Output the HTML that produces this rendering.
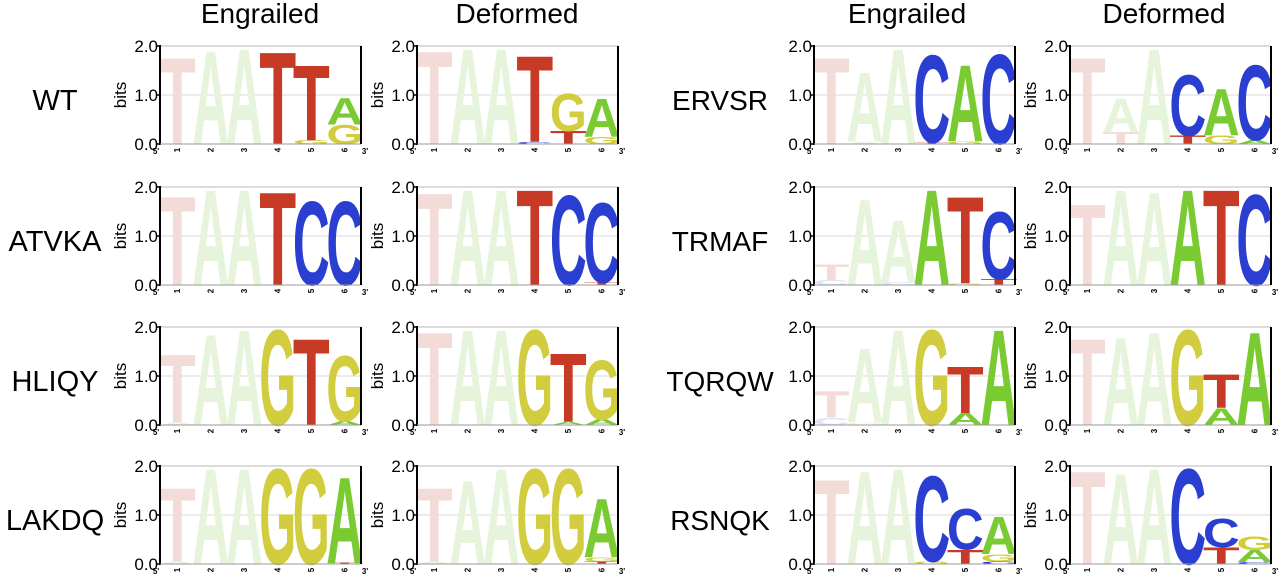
<!DOCTYPE html>
<html><head><meta charset="utf-8"><style>
html,body{margin:0;padding:0;background:#fff;}
svg{display:block;font-family:"Liberation Sans",sans-serif;}
</style></head><body>
<svg id="fig" width="1280" height="579" viewBox="0 0 1280 579" xmlns="http://www.w3.org/2000/svg">
<g font-size="28" text-anchor="middle" fill="#000">
<text x="260" y="23">Engrailed</text>
<text x="517" y="23">Deformed</text>
<text x="907" y="23">Engrailed</text>
<text x="1164" y="23">Deformed</text>
</g>
<g font-size="29" text-anchor="middle" fill="#000">
<text x="55" y="110">WT</text>
<text x="55" y="251">ATVKA</text>
<text x="55" y="391">HLIQY</text>
<text x="55" y="530">LAKDQ</text>
</g>
<g font-size="28" text-anchor="middle" fill="#000">
<text x="720" y="110">ERVSR</text>
<text x="720" y="251">TRMAF</text>
<text x="720" y="391">TQRQW</text>
<text x="720" y="530">RSNQK</text>
</g>
<g id="panels"></g>
</svg>
<script>
// Each panel: 6 positions; each position is a stack (bottom -> top) of [letter, bits]
const wtEng   = [[["T",1.8]],[["A",1.95]],[["A",2.0]],[["T",1.93]],[["G",0.08],["T",1.57]],[["G",0.4],["A",0.55]]];
const wtDef   = [[["T",1.95]],[["A",2.0]],[["A",2.0]],[["C",0.04],["T",1.8]],[["T",0.27],["G",0.78]],[["G",0.15],["A",0.8]]];
const atvkaEng= [[["T",1.86]],[["A",2.0]],[["A",2.0]],[["T",1.95]],[["C",1.75]],[["C",1.75]]];
const atvkaDef= [[["T",1.93]],[["A",2.0]],[["A",2.0]],[["T",2.0]],[["C",1.87]],[["T",0.05],["C",1.67]]];
const hliqyEng= [[["A",0.05],["T",1.42]],[["A",1.9]],[["A",2.0]],[["G",2.0]],[["T",1.8]],[["A",0.08],["G",1.37]]];
const hliqyDef= [[["T",1.95]],[["A",2.0]],[["A",2.0]],[["G",2.0]],[["A",0.06],["T",1.44]],[["A",0.12],["G",1.23]]];
const lakdqEng= [[["A",0.05],["T",1.54]],[["A",2.0]],[["A",2.0]],[["G",2.0]],[["G",2.0]],[["T",0.02],["A",1.81]]];
const lakdqDef= [[["A",0.05],["T",1.55]],[["A",1.75]],[["A",2.0]],[["G",2.0]],[["G",2.0]],[["T",0.05],["G",0.08],["A",1.23]]];
const ervsrEng= [[["T",1.8]],[["A",0.05],["A",1.45]],[["A",2.0]],[["T",0.03],["C",1.83]],[["G",0.05],["A",1.6]],[["C",1.87]]];
const ervsrDef= [[["T",1.8]],[["T",0.25],["A",0.7]],[["A",2.0]],[["T",0.17],["C",1.28]],[["G",0.17],["A",0.98]],[["A",0.08],["C",1.58]]];
const trmafEng= [[["C",0.1],["T",0.33]],[["A",1.8]],[["C",0.06],["A",1.3]],[["A",2.0]],[["G",0.03],["T",1.82]],[["T",0.12],["C",1.41]]];
const trmafDef= [[["T",1.7]],[["A",2.0]],[["A",1.95]],[["A",2.0]],[["T",2.0]],[["C",1.9]]];
const tqrqwEng= [[["C",0.15],["T",0.56]],[["G",0.05],["A",1.56]],[["A",2.0]],[["G",2.0]],[["A",0.25],["T",0.97]],[["A",2.0]]];
const tqrqwDef= [[["T",1.8]],[["A",1.85]],[["A",1.95]],[["G",2.0]],[["A",0.35],["T",0.7]],[["A",1.95]]];
const rsnqkEng= [[["T",1.78]],[["A",1.95]],[["A",2.0]],[["G",0.05],["C",1.79]],[["T",0.3],["C",0.85]],[["C",0.05],["G",0.15],["A",0.78]]];
const rsnqkDef= [[["T",1.95]],[["A",1.9]],[["A",2.0]],[["C",2.0]],[["T",0.35],["C",0.6]],[["C",0.04],["A",0.25],["G",0.29]]];

const panelData = [wtEng,wtDef,ervsrEng,ervsrDef, atvkaEng,atvkaDef,trmafEng,trmafDef,
                   hliqyEng,hliqyDef,tqrqwEng,tqrqwDef, lakdqEng,lakdqDef,rsnqkEng,rsnqkDef];
const panelNames = ["wt-engrailed","wt-deformed","ervsr-engrailed","ervsr-deformed",
  "atvka-engrailed","atvka-deformed","trmaf-engrailed","trmaf-deformed",
  "hliqy-engrailed","hliqy-deformed","tqrqw-engrailed","tqrqw-deformed",
  "lakdq-engrailed","lakdq-deformed","rsnqk-engrailed","rsnqk-deformed"];
const yTicks = [0,1,2];
const yTickLabels = ["0.0","1.0","2.0"];
const positions = ["1","2","3","4","5","6"];

const NS="http://www.w3.org/2000/svg";
const colX=[160,417,814,1070], rowY=[46,187,327,466], PW=201, PH=98, MAXB=2;
const full={T:"#c73a26",A:"#7acb32",C:"#2a3fd1",G:"#d2cd3e"};
const faded={T:"#f3dcd8",A:"#e6f4dc",C:"#dde2f5",G:"#f3f1d3"};
const CAP=0.716;
function mk(tag,attrs,parent){const e=document.createElementNS(NS,tag);for(const k in attrs)e.setAttribute(k,attrs[k]);parent.appendChild(e);return e;}
const root=document.getElementById("panels");
panelData.forEach((data,pi)=>{
  const x0=colX[pi%4], y0=rowY[Math.floor(pi/4)];
  const yS=b=>y0+PH-(b/MAXB)*PH;
  const cw=PW/positions.length;
  const xS=i=>x0+i*cw;
  const g=mk("g",{},root);
  
  
  const top=mk("line",{x1:x0,x2:x0+PW,y1:yS(2),y2:yS(2),stroke:"#c8c8c8","stroke-width":1.2},g);
  
  
  const mid=mk("line",{x1:x0,x2:x0+PW,y1:yS(1),y2:yS(1),stroke:"#d8d8d8","stroke-width":1},g);
  
  
  data.forEach((stack,i)=>{
    let base=0;
    stack.forEach(([L,b])=>{
      const h=(b/MAXB)*PH;
      if(h>0.3){
        const tw=cw*1.1;
        const t=mk("text",{x:0,y:0,"font-size":100,"font-weight":"bold",textLength:tw,lengthAdjust:"spacingAndGlyphs",
          fill:i<3?faded[L]:full[L],
          transform:`translate(${xS(i)-cw*0.05+0.5},${yS(base)}) scale(1,${h/(100*CAP)})`},g);
        t.textContent=L;
        
        
      }
      base+=b;
    });
  });
  const ax=mk("line",{x1:x0,x2:x0,y1:yS(2)-1,y2:yS(0)+1,stroke:"#000","stroke-width":2},g);
  
  
  const bx=mk("line",{x1:x0,x2:x0+PW,y1:yS(0),y2:yS(0),stroke:"#999","stroke-width":1},g);
  
  
  const rb=mk("line",{x1:x0+PW,x2:x0+PW,y1:yS(2),y2:yS(0),stroke:"#000","stroke-width":2},g);
  
  
  yTicks.forEach((v,k)=>{
    const tk=mk("line",{x1:x0-4,x2:x0,y1:yS(v),y2:yS(v),stroke:"#000","stroke-width":1.5},g);
    
    
    const tl=mk("text",{x:x0-2,y:yS(v)+6,"font-size":17,"text-anchor":"end",fill:"#000"},g);
    tl.textContent=yTickLabels[k];
    
    
  });
  if(pi%4!==2){
    const bl=mk("text",{x:0,y:0,"font-size":17,"text-anchor":"middle",fill:"#000",transform:`translate(${x0-34},${yS(1)}) rotate(-90)`},g);
    bl.textContent="bits";
    
    
  }
  positions.forEach((p,i)=>{
    const pl=mk("text",{x:0,y:0,"font-size":8,"font-weight":"bold","text-anchor":"middle",fill:"#000",transform:`translate(${xS(i)+cw/2+3},${yS(0)+6}) rotate(-90)`},g);
    pl.textContent=p;
    
    
  });
  const p5=mk("text",{x:x0-4,y:yS(0)+10,"font-size":8,"font-weight":"bold","text-anchor":"middle",fill:"#000"},g);
  p5.textContent="5'";
  
  
  const p3=mk("text",{x:x0+PW+4,y:yS(0)+10,"font-size":8,"font-weight":"bold","text-anchor":"middle",fill:"#000"},g);
  p3.textContent="3'";
  
  
});
</script>
</body></html>
